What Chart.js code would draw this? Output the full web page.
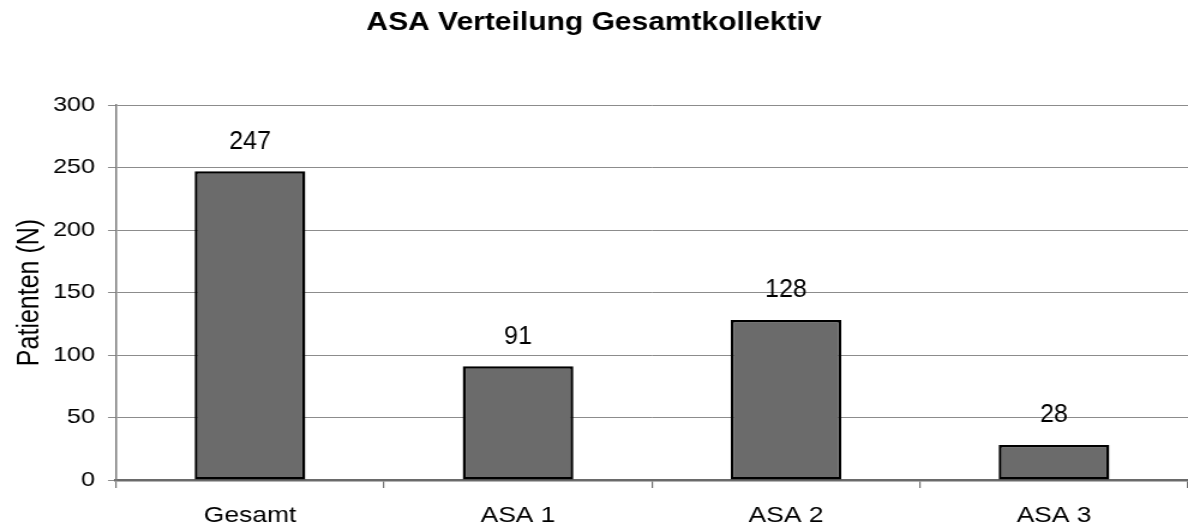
<!DOCTYPE html>
<html>
<head>
<meta charset="utf-8">
<script src="https://cdn.jsdelivr.net/npm/chart.js@4/dist/chart.umd.min.js"></script>
<style>
  html, body { margin: 0; padding: 0; background: #ffffff; overflow: hidden; }
  /* the chart is laid out at 990px and widened to the 1188px page */
  #wrap { width: 990px; height: 531px; transform: scaleX(1.2); transform-origin: 0 0; }
</style>
</head>
<body>
<div id="wrap"><canvas id="c" width="990" height="531"></canvas></div>
<script>
const categories = ['Gesamt', 'ASA 1', 'ASA 2', 'ASA 3'];
const patients = [247, 91, 128, 28];
const yTicks = [0, 50, 100, 150, 200, 250, 300];

const FONT = '"Liberation Sans", Arial, Helvetica, sans-serif';
const STRETCH = 1.2;

// Writes each bar's value centred above it, in normal proportions
const valueLabels = {
  id: 'valueLabels',
  afterDatasetsDraw(chart) {
    const ctx = chart.ctx;
    chart.data.datasets.forEach((ds, di) => {
      chart.getDatasetMeta(di).data.forEach((bar, i) => {
        ctx.save();
        ctx.translate(bar.x, bar.y - 29.5);
        ctx.scale(1 / STRETCH, 1);
        ctx.font = '25px ' + FONT;
        ctx.fillStyle = '#000000';
        ctx.textAlign = 'center';
        ctx.textBaseline = 'middle';
        ctx.fillText(String(ds.data[i]), 0, 0);
        ctx.restore();
      });
    });
  }
};

new Chart(document.getElementById('c'), {
  type: 'bar',
  data: {
    labels: categories,
    datasets: [{
      label: 'Patienten',
      data: patients,
      backgroundColor: '#6b6b6b',
      borderColor: '#000000',
      borderWidth: 2.5,
      borderSkipped: false,
      barPercentage: 0.413,
      categoryPercentage: 1.0
    }]
  },
  options: {
    responsive: false,
    animation: false,
    devicePixelRatio: 1,
    layout: { padding: { left: 0, right: 0, top: 0, bottom: 0 } },
    plugins: {
      legend: { display: false },
      tooltip: { enabled: false },
      title: {
        display: true,
        text: 'ASA Verteilung Gesamtkollektiv',
        color: '#000000',
        font: { family: FONT, size: 25, weight: 'bold' },
        padding: { top: 8, bottom: 67 }
      }
    },
    scales: {
      x: {
        grid: {
          offset: true,
          drawOnChartArea: false,
          drawTicks: true,
          tickLength: 8,
          color: '#707070',
          lineWidth: 1.2
        },
        border: { display: true, color: '#6a6a6a', width: 2.5 },
        ticks: {
          color: '#000000',
          font: { family: FONT, size: 22 },
          padding: 15,
          maxRotation: 0
        },
        afterFit(scale) { scale.height = 51; }
      },
      y: {
        min: 0,
        max: 300,
        afterBuildTicks(scale) { scale.ticks = yTicks.map(v => ({ value: v })); },
        grid: {
          color: '#8c8c8c',
          lineWidth: 1,
          drawTicks: true,
          tickLength: 6.7
        },
        border: { display: true, color: '#7a7a7a', width: 1.5 },
        ticks: {
          color: '#000000',
          font: { family: FONT, size: 21 },
          padding: 10.8
        },
        title: {
          display: true,
          text: 'Patienten (N)',
          color: '#000000',
          font: { family: FONT, size: 25 },
          padding: { top: 10, bottom: 0 }
        },
        afterFit(scale) { scale.width = 96.67; }
      }
    }
  },
  plugins: [valueLabels]
});
</script>
</body>
</html>
